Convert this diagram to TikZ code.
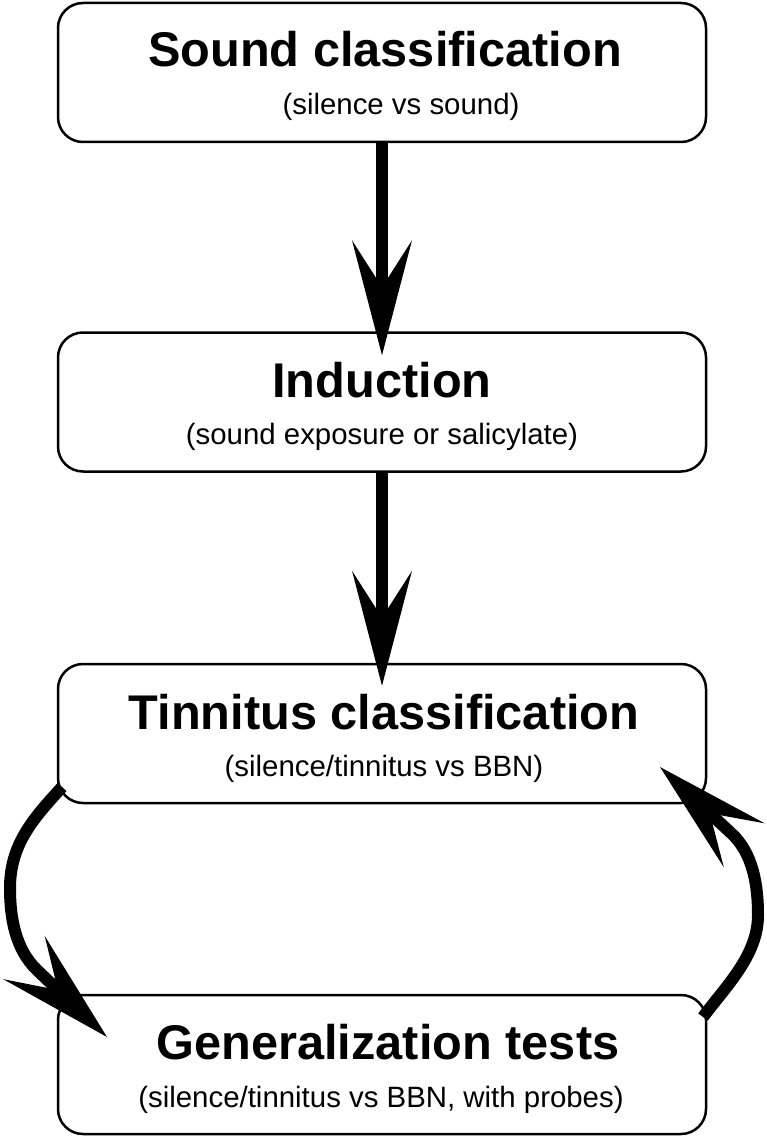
\documentclass[tikz,border=0pt]{standalone}
\usepackage{fontspec}
\setmainfont{Liberation Sans}
\usetikzlibrary{arrows.meta}
\begin{document}
\begin{tikzpicture}[x=1pt,y=-1pt,
  box/.style={draw, line width=2.5pt, rounded corners=25pt, minimum width=648pt, minimum height=139pt, inner sep=0pt},
  ttl/.style={anchor=base, font=\fontsize{48.7}{50}\selectfont\bfseries, inner sep=0pt},
  sub/.style={anchor=base, font=\fontsize{29.4}{31}\selectfont, inner sep=0pt},
  flow/.style={line width=12pt, -{Stealth[length=115pt, width=60pt, inset=47pt, line width=0pt]}}]
\useasboundingbox (0,0) rectangle (767,1139);
\node[box] (b1) at (382,72.5) {};
\node[box] (b2) at (382,402) {};
\node[box] (b3) at (382,733.5) {};
\node[box] (b4) at (382,1064.5) {};
\node[ttl] (t1) at (385,67) {Sound classification};
\node[sub] (s1) at (401,115) {(silence vs sound)};
\node[ttl] (t2) at (382,397) {Induction};
\node[sub] (s2) at (382,444) {(sound exposure or salicylate)};
\node[ttl] (t3) at (384,729) {Tinnitus classification};
\node[sub] (s3) at (384,776) {(silence/tinnitus vs BBN)};
\node[ttl] (t4) at (388,1059) {Generalization tests};
\node[sub] (s4) at (381,1107) {(silence/tinnitus vs BBN, with probes)};
\draw[flow, shorten >=-24pt] (b1.south) -- (b2.north);
\draw[flow, shorten >=-23pt] (b2.south) -- (b3.north);
\coordinate (l1) at (62,787);
\coordinate (lm) at (10,888);
\coordinate (l2) at (37,970);
\coordinate (l3) at (107,1037);
\coordinate (r1) at (703,1017);
\coordinate (rm) at (758,915);
\coordinate (r2) at (731,833);
\coordinate (r3) at (660,767);
\draw[flow] (l1) .. controls (35,817) and (10,843) .. (lm)
  .. controls (10,918) and (15.4,949.3) .. (l2) -- (l3);
\draw[flow] (r1) .. controls (727,985) and (758,955) .. (rm)
  .. controls (758,885) and (753,853) .. (r2) -- (r3);
\end{tikzpicture}
\end{document}
